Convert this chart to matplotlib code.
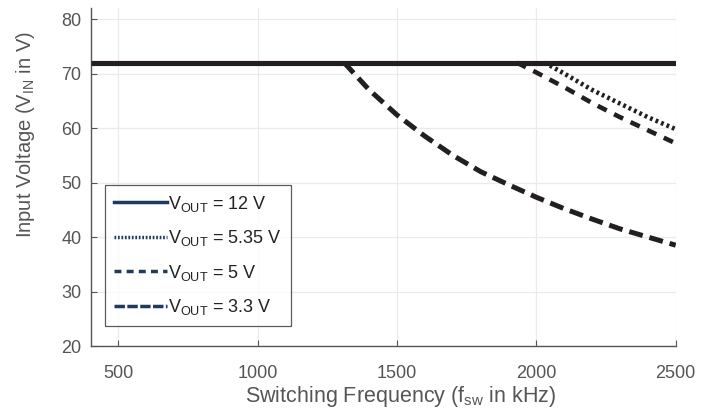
import matplotlib
matplotlib.use('Agg')
import matplotlib.pyplot as plt
from matplotlib.lines import Line2D

plt.rcParams['font.family'] = ['Liberation Sans', 'DejaVu Sans']
plt.rcParams['mathtext.fontset'] = 'custom'
plt.rcParams['mathtext.rm'] = 'Liberation Sans'
plt.rcParams['mathtext.it'] = 'Liberation Sans'
plt.rcParams['mathtext.default'] = 'regular'

# data
f_12 = [400, 2500]
v_12 = [72, 72]

f_535 = [2030, 2100, 2200, 2300, 2400, 2500]
v_535 = [72, 70.0, 67.0, 64.5, 62.0, 59.8]

f_5 = [1930, 2000, 2100, 2200, 2300, 2400, 2500]
v_5 = [72, 70.2, 67.5, 64.6, 62.0, 59.6, 57.2]

f_33 = [1310, 1400, 1500, 1600, 1700, 1800, 1900, 2000, 2100, 2200, 2300, 2400, 2500]
v_33 = [72, 67.0, 62.4, 58.5, 55.0, 52.0, 49.6, 47.3, 45.2, 43.3, 41.5, 40.0, 38.5]

labels = ['$V_{OUT}$ = 12 V', '$V_{OUT}$ = 5.35 V', '$V_{OUT}$ = 5 V', '$V_{OUT}$ = 3.3 V']
x_ticks = [500, 1000, 1500, 2000, 2500]
y_ticks = [20, 30, 40, 50, 60, 70, 80]

line_col = '#231f20'
leg_col = '#1f3a5f'
txt_col = '#555555'

fig = plt.figure(figsize=(7.12, 4.09), dpi=100)
ax = fig.add_axes([0.128, 0.154, 0.821, 0.826])

ax.plot(f_33, v_33, color=line_col, lw=3.6, ls=(0, (2.8, 1.4)), zorder=3)
ax.plot(f_5, v_5, color=line_col, lw=3.3, ls=(0, (2.2, 1.8)), zorder=3)
ax.plot(f_535, v_535, color=line_col, lw=3.3, ls=(0, (0.6, 0.7)), zorder=3)
ax.plot(f_12, v_12, color=line_col, lw=3.7, zorder=4, solid_capstyle='butt')

ax.set_xlim(402, 2500)
ax.set_ylim(20, 82)
ax.set_xticks(x_ticks)
ax.set_yticks(y_ticks)
ax.grid(True, color='#ebebeb', lw=0.9)
ax.set_axisbelow(True)

for s in ['top', 'right']:
    ax.spines[s].set_visible(False)
for s in ['left', 'bottom']:
    ax.spines[s].set_color('#555555')
    ax.spines[s].set_linewidth(1.0)
ax.tick_params(direction='in', length=4, colors='#555555', labelsize=13, labelcolor=txt_col)
ax.tick_params(axis='x', pad=14)
ax.tick_params(axis='y', pad=7)

ax.set_xlabel('Switching Frequency (f$_{sw}$ in kHz)', fontsize=15.5, color=txt_col)
ax.xaxis.set_label_coords(0.53, -0.112)
ax.set_ylabel('Input Voltage (V$_{IN}$ in V)', fontsize=14.5, color=txt_col)
ax.yaxis.set_label_coords(-0.092, 0.627)

handles = [
    Line2D([], [], color=leg_col, lw=2.5),
    Line2D([], [], color=leg_col, lw=2.5, ls=(0, (0.5, 0.5))),
    Line2D([], [], color=leg_col, lw=2.5, ls=(0, (2, 1.5))),
    Line2D([], [], color=leg_col, lw=2.5, ls=(0, (3, 0.7))),
]
leg = ax.legend(handles, labels, loc='lower left', bbox_to_anchor=(0.024, 0.059),
                fontsize=13, handlelength=2.9, handletextpad=0.1, labelspacing=0.8,
                frameon=True, fancybox=False, borderpad=0.5, borderaxespad=0)
leg.get_frame().set_edgecolor('#333333')
leg.get_frame().set_linewidth(0.9)
for t in leg.get_texts():
    t.set_color('#222222')

fig.savefig('out.png', dpi=100)
